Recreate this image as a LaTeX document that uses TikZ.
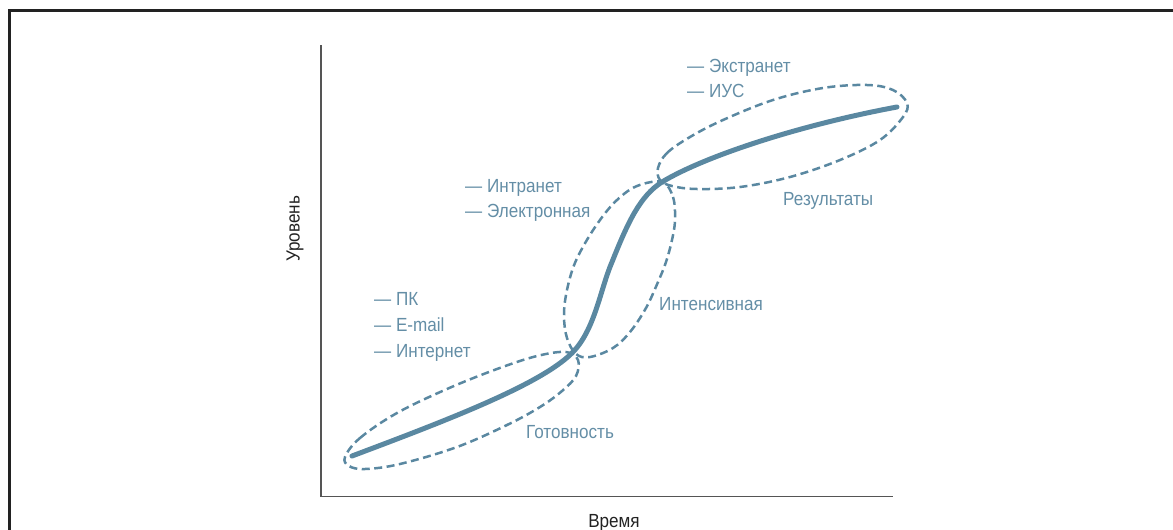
\documentclass[tikz,border=0pt]{standalone}
\usepackage{fontspec}
\setmainfont{Liberation Sans}[FakeStretch=0.9]
\definecolor{steel}{RGB}{90,136,161}
\definecolor{steeltext}{RGB}{100,142,166}
\definecolor{frame}{RGB}{34,34,34}
\definecolor{axisgray}{RGB}{85,85,85}
\begin{document}
\begin{tikzpicture}[x=1pt,y=-1pt,
  lbl/.style={inner sep=0pt, anchor=base west, text=steeltext, font=\fontsize{19}{22}\selectfont},
  axlbl/.style={inner sep=0pt, text=frame, font=\fontsize{19}{22}\selectfont},
  zone/.style={draw=steel, line width=2.5pt, dash pattern=on 8pt off 4.5pt},
  trend/.style={draw=steel, line width=5pt, line cap=round}]
\useasboundingbox (0,0) rectangle (1173,530);
% frame (top and left edges)
\draw[frame, line width=2.5pt] (9.5,531) -- (9.5,10.5) -- (1174,10.5);
% axes
\coordinate (ytop) at (321,45);
\coordinate (orig) at (321,496.5);
\coordinate (xend) at (893,496.5);
\draw[axisgray, line width=1.5pt] (ytop) -- (orig) -- (xend);
\node[axlbl, rotate=90] (ylab) at (295,229) {Уровень};
\node[axlbl, anchor=base] (xlab) at (614,527) {Время};
% zones
\draw[zone] plot[smooth cycle, tension=0.6] coordinates {(345,457) (360,438) (397,413) (447,389) (497,369) (537,356) (566,352) (578,360) (576,376) (562,391) (540,407) (507,425) (457,447) (400,464) (365,469) (349,466)};
\draw[zone] plot[smooth cycle, tension=0.6] coordinates {(662,182) (673,197) (675,220) (672,240) (666,262) (658,282) (646,308) (630,332) (613,348) (590,357) (576,354) (567,338) (564,317) (566,295) (573,268) (584,245) (600,220) (617,200) (637,186)};
\draw[zone] plot[smooth cycle, tension=0.6] coordinates {(658,168) (667,153) (690,137) (723,120) (773,100) (823,88) (867,85) (893,90) (907,103) (903,117) (880,140) (840,160) (790,177) (740,187) (697,189) (672,186) (660,180)};
% trend curve
\draw[trend] (352,456) .. controls (445,421) and (540,385) .. (572,353)
  .. controls (595,330) and (600,290) .. (612,262)
  .. controls (628,222) and (640,196) .. (662,182)
  .. controls (705,156) and (800,125) .. (897,107);
% labels
\node[lbl] (pk) at (374,305) {— ПК};
\node[lbl] (email) at (374,331) {— E-mail};
\node[lbl] (inet) at (374,357) {— Интернет};
\node[lbl] (intra) at (465,192) {— Интранет};
\node[lbl] (elec) at (465,217) {— Электронная};
\node[lbl] (extra) at (687,72) {— Экстранет};
\node[lbl] (ius) at (687,97) {— ИУС};
\node[lbl] (res) at (783,205) {Результаты};
\node[lbl] (intens) at (659,310) {Интенсивная};
\node[lbl] (got) at (526,438) {Готовность};
\end{tikzpicture}
\end{document}
